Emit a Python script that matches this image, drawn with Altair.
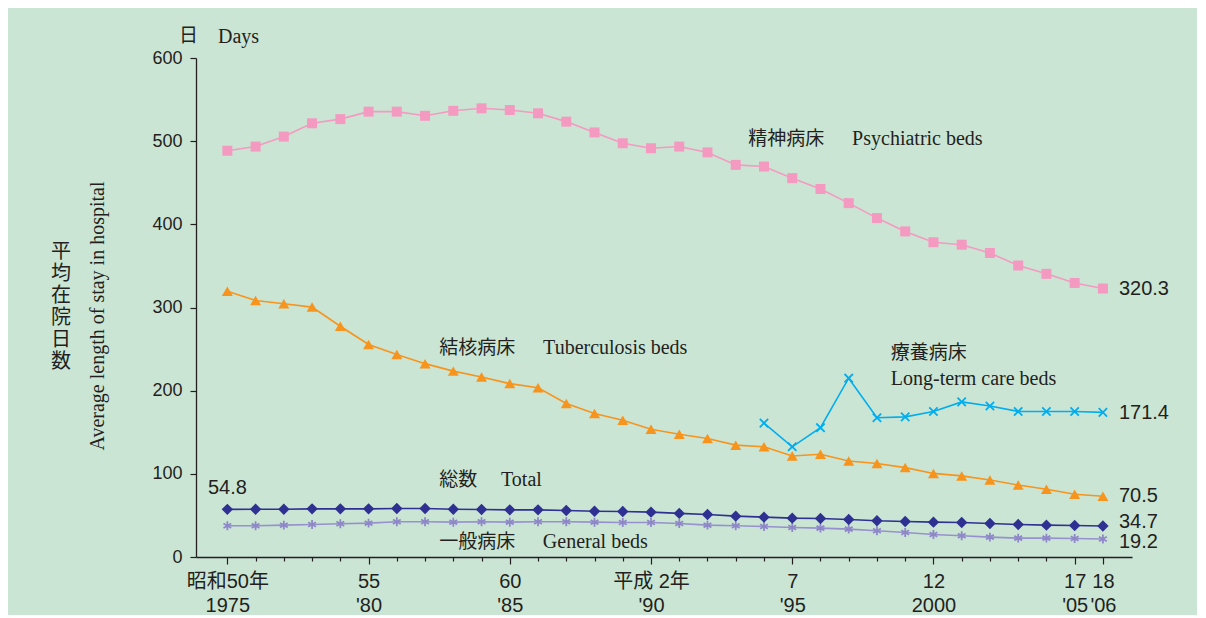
import altair as alt
import pandas as pd

years = list(range(1975, 2007))
psychiatric = [488.5, 493.5, 505.5, 521.5, 526.5, 535.5, 535.5, 530.5, 536.5, 539.5, 537.5, 533.5,
               523.5, 510.5, 497.5, 491.5, 493.5, 486.5, 471.5, 469.5, 455.5, 442.5, 425.5, 407.5,
               391.5, 378.5, 375.5, 365.5, 350.5, 340.5, 329.5, 322.8]
tuberculosis = [319.5, 308.5, 304.5, 300.5, 277.5, 255.5, 243.5, 232.5, 223.5, 216.5, 208.5, 203.5,
                184.5, 172.5, 164.5, 153.5, 147.5, 142.5, 134.5, 132.5, 121.5, 123.5, 115.5, 112.5,
                107.5, 100.5, 97.5, 92.5, 86.5, 81.5, 75.5, 73]
ltc_years = list(range(1994, 2007))
longterm = [161, 132.5, 155.5, 215, 167.5, 168.5, 175, 186.5, 181.5, 175, 175, 175, 173.9]
total = [57.3, 57.5, 57.5, 57.9, 57.9, 57.9, 58.4, 58.4, 57.5, 57.2, 56.7, 56.7, 56, 55.1, 54.7, 53.9,
         52.4, 51.1, 49.1, 47.9, 46.7, 46.3, 45.1, 43.5, 42.7, 41.9, 41.5, 40.3, 39.1, 38.3, 37.9, 37.2]
general = [37.5, 37.5, 38.3, 39.1, 39.9, 40.7, 42.3, 42.3, 41.9, 42.3, 41.9, 42.3, 42.3, 41.9, 41.5, 41.5,
           40.3, 38.3, 37.5, 36.7, 35.5, 34.7, 33.5, 31.5, 29.5, 27.1, 25.5, 23.9, 22.7, 22.7, 22.3, 21.7]

# printed value labels
end_label_text = ["320.3", "171.4", "70.5", "34.7", "19.2"]
start_label_text = "54.8"

label_years = [1975, 1980, 1985, 1990, 1995, 2000, 2005, 2006]
label_top = ["昭和50年", "55", "60", "平成 2年", "7", "12", "17", "18"]
label_bottom = ["1975", "'80", "'85", "'90", "'95", "2000", "'05", "'06"]
y_ticks = [0, 100, 200, 300, 400, 500, 600]

TXT = "#231F20"
BG = "#CBE5D4"
SANS = "Liberation Sans, Noto Sans CJK JP"
SERIF = "Liberation Serif"
JP = "Noto Sans CJK JP"

expr = "''"
for yv, t, b in reversed(list(zip(label_years, label_top, label_bottom))):
    expr = f"datum.value == {yv} ? ['{t}', \"{b}\"] : ({expr})"
major_test = "indexof([" + ",".join(str(v) for v in label_years) + "], datum.value) >= 0"

x_axis = alt.Axis(values=years, labelExpr=expr, title=None, grid=False,
                  tickSize={"condition": {"test": major_test, "value": 7}, "value": 4},
                  labelFont=SANS, labelFontSize=20, labelColor=TXT, labelLineHeight=24,
                  labelPadding=7, labelOverlap=False, labelFlush=False, labelBound=False,
                  domainColor=TXT, tickColor=TXT, domainWidth=1.3, tickWidth=1.2)
y_axis = alt.Axis(values=y_ticks, title=None, grid=False, tickSize=6, labelPadding=8,
                  labelFont="Liberation Sans", labelFontSize=18, labelColor=TXT,
                  domainColor=TXT, tickColor=TXT, domainWidth=1.3, tickWidth=1.2)

X = alt.X("year:Q", scale=alt.Scale(domain=[1973.89, 2007.03], nice=False, zero=False), axis=x_axis)
Y = alt.Y("value:Q", scale=alt.Scale(domain=[0, 600], nice=False), axis=y_axis)


def series(xs, vals, color, line_color, shape, filled, size, sw=1.6):
    df = pd.DataFrame({"year": xs, "value": vals})
    base = alt.Chart(df)
    line = base.mark_line(color=line_color, strokeWidth=sw).encode(x=X, y=Y)
    if filled:
        pts = base.mark_point(shape=shape, filled=True, size=size, color=color, opacity=1).encode(x=X, y=Y)
    else:
        pts = base.mark_point(shape=shape, filled=False, size=size, color=color, opacity=1,
                              strokeWidth=1.8).encode(x=X, y=Y)
    return [line, pts]


XSHAPE = "M-1,-1L1,1M-1,1L1,-1"
ASTER = "M0,-1L0,1M-0.87,-0.5L0.87,0.5M-0.87,0.5L0.87,-0.5"

layers = []
layers += series(years, general, "#8E88C8", "#9691CD", ASTER, False, 80)
layers += series(years, total, "#2E3192", "#2E3192", "diamond", True, 130)
layers += series(years, tuberculosis, "#F7941D", "#F7941D", "triangle-up", True, 120)
layers += series(ltc_years, longterm, "#00AEEF", "#00AEEF", XSHAPE, False, 70)
layers += series(years, psychiatric, "#F49AC1", "#F49AC1", "square", True, 100)

ann_jp = pd.DataFrame({
    "year": [1993.44, 1982.5, 1998.49, 1982.5, 1982.5],
    "value": [502.5, 251.2, 245.2, 92.9, 18.0],
    "t": ["精神病床", "結核病床", "療養病床", "総数", "一般病床"],
})
ann_en = pd.DataFrame({
    "year": [1997.12, 1986.18, 1998.49, 1984.69, 1986.17],
    "value": [502.5, 251.2, 214.3, 92.9, 18.0],
    "t": ["Psychiatric beds", "Tuberculosis beds", "Long-term care beds", "Total", "General beds"],
})
layers.append(alt.Chart(ann_jp).mark_text(align="left", baseline="middle", font=JP, fontSize=19,
                                         color=TXT).encode(x=X, y=Y, text="t:N"))
layers.append(alt.Chart(ann_en).mark_text(align="left", baseline="middle", font=SERIF, fontSize=20,
                                         color=TXT).encode(x=X, y=Y, text="t:N"))

end_vals = [psychiatric[-1], longterm[-1], tuberculosis[-1], total[-1], general[-1]]
end_dy = [0, 1, 0, -4, 3]
for v, t, dy in zip(end_vals, end_label_text, end_dy):
    layers.append(alt.Chart(pd.DataFrame({"year": [2006], "value": [v], "t": [t]}))
                  .mark_text(align="left", baseline="middle", dx=16, dy=dy, font="Liberation Sans",
                             fontSize=20, color=TXT).encode(x=X, y=Y, text="t:N"))
layers.append(alt.Chart(pd.DataFrame({"year": [1975], "value": [total[0]], "t": [start_label_text]}))
              .mark_text(align="center", baseline="middle", dy=-21, font="Liberation Sans",
                         fontSize=20, color=TXT).encode(x=X, y=Y, text="t:N"))

layers.append(alt.Chart(pd.DataFrame({"t": ["日"]})).mark_text(
    align="left", baseline="middle", font=JP, fontSize=19, color=TXT).encode(
    x=alt.value(-17), y=alt.value(-22), text="t:N"))
layers.append(alt.Chart(pd.DataFrame({"t": ["Days"]})).mark_text(
    align="left", baseline="middle", font=SERIF, fontSize=20, color=TXT).encode(
    x=alt.value(22), y=alt.value(-21), text="t:N"))
layers.append(alt.Chart(pd.DataFrame({"t": ["Average length of stay in hospital"]})).mark_text(
    align="center", baseline="middle", font=SERIF, fontSize=20, angle=270, color=TXT).encode(
    x=alt.value(-98), y=alt.value(258), text="t:N"))
layers.append(alt.Chart(pd.DataFrame({"t": ["平\n均\n在\n院\n日\n数"]})).mark_text(
    align="center", baseline="top", font=JP, fontSize=20, lineHeight=22, lineBreak="\n",
    color=TXT).encode(x=alt.value(-135), y=alt.value(184), text="t:N"))

chart = alt.layer(*layers).properties(
    width=936, height=499,
    autosize=alt.AutoSizeParams(type="none"),
    padding={"left": 188, "top": 50, "right": 65, "bottom": 58},
    background=BG,
).configure_view(stroke=None)

chart.save("out.html", embed_options={"renderer": "svg", "actions": False})
